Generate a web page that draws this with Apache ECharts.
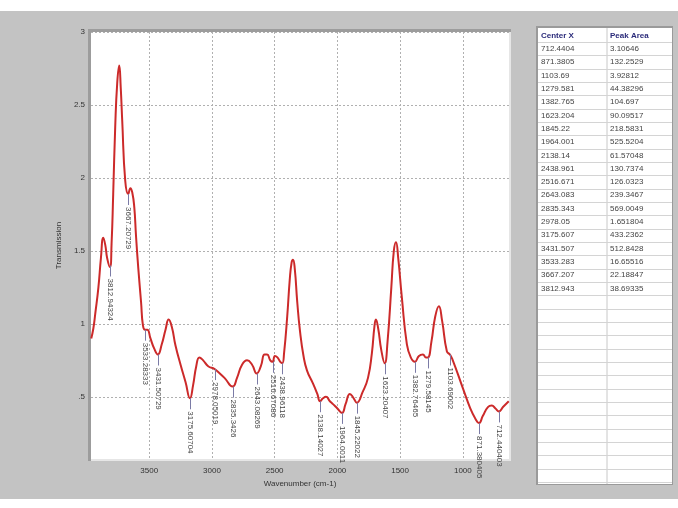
<!DOCTYPE html>
<html>
<head>
<meta charset="utf-8">
<script src="https://cdn.jsdelivr.net/npm/echarts@6/dist/echarts.min.js"></script>
<style>
html,body{margin:0;padding:0;background:#fff;}
#c{width:678px;height:508px;}
</style>
</head>
<body>
<div id="c"></div>
<script>
// Spectrum trace: wavenumber (cm-1) and transmission
const wavenumbers = [3962,3945,3930,3905,3885,3866,3850,3835,3813,3800,3787,3771,3755,3739,3727,3715,3691,3667,3650,3635,3619,3605,3587,3565,3550,3533,3515,3490,3460,3431,3400,3370,3345,3320,3290,3250,3210,3175,3150,3125,3100,3070,3030,2978,2950,2900,2835,2800,2760,2720,2680,2643,2610,2580,2560,2535,2517,2498,2478,2455,2439,2425,2400,2380,2365,2354,2340,2320,2298,2270,2242,2194,2160,2138,2115,2091,2060,2035,2000,1963,1935,1900,1870,1845,1800,1756,1725,1705,1693,1675,1650,1623,1600,1570,1550,1533,1515,1486,1446,1415,1382,1350,1318,1295,1279,1250,1220,1191,1165,1127,1103,1080,1000,940,900,872,840,800,769,740,712,680,634];
const transmission = [0.90,0.97,1.07,1.25,1.45,1.59,1.54,1.45,1.39,1.55,1.89,2.35,2.65,2.77,2.62,2.39,1.98,1.89,1.93,1.90,1.80,1.60,1.38,1.15,0.99,0.96,0.96,0.90,0.83,0.79,0.86,0.96,1.03,0.98,0.85,0.72,0.60,0.49,0.58,0.71,0.77,0.75,0.71,0.69,0.67,0.63,0.57,0.63,0.72,0.75,0.72,0.66,0.71,0.79,0.79,0.75,0.74,0.78,0.77,0.74,0.73,0.80,1.05,1.30,1.42,1.44,1.38,1.15,0.95,0.78,0.68,0.59,0.52,0.47,0.49,0.50,0.47,0.45,0.42,0.39,0.45,0.52,0.49,0.46,0.53,0.63,0.80,0.98,1.03,0.97,0.82,0.73,0.88,1.25,1.50,1.56,1.45,1.18,0.86,0.77,0.74,0.78,0.79,0.77,0.77,0.88,1.05,1.12,1.02,0.81,0.79,0.75,0.56,0.42,0.35,0.32,0.37,0.43,0.44,0.42,0.40,0.43,0.47];

// Peak annotations
const peakX = [3812.94324,3667.20729,3533.28333,3431.50729,3175.60704,2978.05019,2835.3426,2643.08269,2516.67086,2438.96118,2138.14027,1964.0011,1845.22022,1623.20407,1382.76465,1279.58145,1103.69002,871.380405,712.440403];
const peakY = [1.40,1.89,0.96,0.79,0.49,0.69,0.57,0.66,0.74,0.73,0.47,0.39,0.46,0.73,0.74,0.77,0.79,0.32,0.40];
const peakLabels = ["3812.94324","3667.20729","3533.28333","3431.50729","3175.60704","2978.05019","2835.3426","2643.08269","2516.67086","2438.96118","2138.14027","1964.0011","1845.22022","1623.20407","1382.76465","1279.58145","1103.69002","871.380405","712.440403"];

// Axis ticks
const xTicks = [1000,1500,2000,2500,3000,3500];
const yTicks = [0.5,1,1.5,2,2.5,3];

// Table
const tableHeader = ["Center X","Peak Area"];
const centerX = ["712.4404","871.3805","1103.69","1279.581","1382.765","1623.204","1845.22","1964.001","2138.14","2438.961","2516.671","2643.083","2835.343","2978.05","3175.607","3431.507","3533.283","3667.207","3812.943"];
const peakArea = ["3.10646","132.2529","3.92812","44.38296","104.697","90.09517","218.5831","525.5204","61.57048","130.7374","126.0323","239.3467","569.0049","1.651804","433.2362","512.8428","16.65516","22.18847","38.69335"];

const FONT = 'Liberation Sans';
const chart = echarts.init(document.getElementById('c'), null, {renderer:'canvas'});

// build table graphics
const tX = 538, tW = 134, tY = 28, colX = 607, headH = 14, rowH = 13.33, tBottom = 484;
const tableEls = [];
tableEls.push({type:'rect', shape:{x:tX-2,y:tY-2,width:tW+3,height:tBottom-tY+3}, style:{fill:'#9a9a9a'}, z:-5});
tableEls.push({type:'rect', shape:{x:tX,y:tY,width:tW,height:tBottom-tY}, style:{fill:'#ffffff'}, z:-4});
tableEls.push({type:'line', shape:{x1:colX,y1:tY,x2:colX,y2:tBottom}, style:{stroke:'#c8c8c8',lineWidth:1}, z:-3});
const nRows = Math.floor((tBottom - tY - headH) / rowH);
for (let i = 0; i <= nRows; i++) {
  const yy = Math.round(tY + headH + i * rowH) + 0.5;
  if (yy < tBottom) tableEls.push({type:'line', shape:{x1:tX,y1:yy,x2:tX+tW,y2:yy}, style:{stroke:'#d4d4d4',lineWidth:1}, z:-3});
}
tableEls.push({type:'text', x:tX+3, y:tY+headH/2+1, style:{text:tableHeader[0], fill:'#2b2b7a', font:'bold 8px '+FONT, verticalAlign:'middle'}, z:-2});
tableEls.push({type:'text', x:colX+3, y:tY+headH/2+1, style:{text:tableHeader[1], fill:'#2b2b7a', font:'bold 8px '+FONT, verticalAlign:'middle'}, z:-2});
for (let i = 0; i < centerX.length; i++) {
  const yy = tY + headH + i * rowH + rowH/2;
  tableEls.push({type:'text', x:tX+3, y:yy, style:{text:centerX[i], fill:'#444', font:'8px '+FONT, verticalAlign:'middle'}, z:-2});
  tableEls.push({type:'text', x:colX+3, y:yy, style:{text:peakArea[i], fill:'#444', font:'8px '+FONT, verticalAlign:'middle'}, z:-2});
}

const gridL = 91, gridT = 32, gridR = 509, gridB = 459;

const option = {
  animation: false,
  backgroundColor: '#ffffff',
  graphic: [
    {type:'rect', shape:{x:0,y:11,width:678,height:488}, style:{fill:'#c3c3c3'}, z:-10},
    {type:'rect', shape:{x:gridL-3,y:gridT-3,width:gridR-gridL+5,height:gridB-gridT+5}, style:{fill:'#9c9c9c'}, z:-9},
    {type:'rect', shape:{x:gridL,y:gridT,width:gridR-gridL+2,height:gridB-gridT+2}, style:{fill:'#e6e6e6'}, z:-8}
  ].concat(tableEls),
  grid: {left:gridL, top:gridT, width:gridR-gridL, height:gridB-gridT, show:true, backgroundColor:'#ffffff', borderWidth:0, containLabel:false},
  xAxis: {
    type:'value', inverse:true, min:632, max:3964,
    name:'Wavenumber (cm-1)', nameLocation:'middle', nameGap:20,
    nameTextStyle:{fontFamily:FONT, fontSize:8, color:'#333'},
    axisLine:{show:false}, axisTick:{show:false, customValues:xTicks},
    axisLabel:{customValues:xTicks, fontFamily:FONT, fontSize:8, color:'#333', margin:8,
      formatter: v => String(Math.round(v))},
    splitLine:{show:true, lineStyle:{color:'#b0b0b0', type:[2,2], width:1}}
  },
  yAxis: {
    type:'value', min:0.074, max:3,
    name:'Transmission', nameLocation:'middle', nameGap:25,
    nameTextStyle:{fontFamily:FONT, fontSize:8, color:'#333'},
    axisLine:{show:false}, axisTick:{show:false, customValues:yTicks},
    axisLabel:{customValues:yTicks, fontFamily:FONT, fontSize:8, color:'#333', margin:6,
      formatter: v => (Math.abs(v-0.5)<1e-9 ? '.5' : String(v))},
    splitLine:{show:true, lineStyle:{color:'#b0b0b0', type:[2,2], width:1}}
  },
  series: [
    {
      type:'line', smooth:0.5, symbol:'none',
      data: wavenumbers.map((w,i)=>[w, transmission[i]]),
      lineStyle:{color:'#cc2a2a', width:2}, z:3
    },
    {
      type:'custom', z:4,
      data: peakX.map((x,i)=>[x, peakY[i]]),
      renderItem: (params, api) => {
        const p = api.coord([api.value(0), api.value(1)]);
        const x = Math.round(p[0]) + 0.5;
        return {type:'group', children:[
          {type:'line', shape:{x1:x,y1:p[1],x2:x,y2:p[1]+11}, style:{stroke:'#7b7ba6', lineWidth:1}},
          {type:'text', x:x, y:p[1]+13, rotation:-Math.PI/2,
           style:{text:peakLabels[params.dataIndex], fill:'#444', font:'8px '+FONT, align:'left', verticalAlign:'middle'}}
        ]};
      }
    }
  ]
};
chart.setOption(option);
</script>
</body>
</html>
